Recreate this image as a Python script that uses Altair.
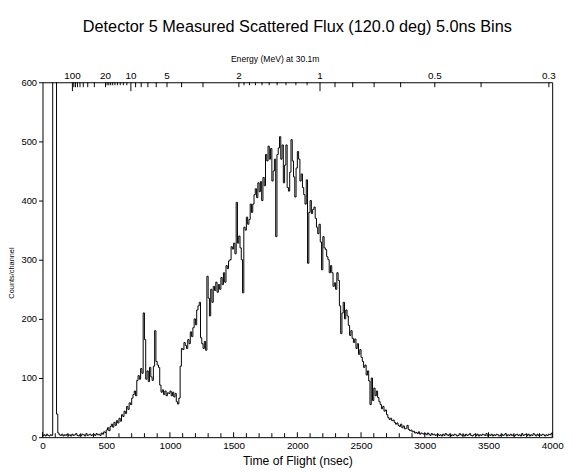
import math
import altair as alt
import pandas as pd

TITLE = "Detector 5 Measured Scattered Flux (120.0 deg) 5.0ns Bins"
X_TITLE = "Time of Flight (nsec)"
Y_TITLE = "Counts/channel"
TOP_TITLE = "Energy (MeV) at 30.1m"
FONT = "Liberation Sans"

# Counts, one value per 10 ns (start of bin)
counts_0_1000 = [
    3, 4, 2, 5, 3, 2, 4, 3, 900, 900,
    900, 39, 7, 4, 3, 5, 2, 4, 3, 5,
    3, 4, 2, 5, 3, 4, 6, 3, 2, 4,
    3, 5, 4, 2, 6, 3, 4, 5, 3, 4,
    5, 3, 6, 4, 5, 3, 7, 5, 9, 8,
    12, 16, 11, 18, 22, 17, 25, 20, 28, 24,
    32, 27, 38, 35, 44, 40, 52, 47, 58, 55,
    66, 72, 78, 70, 96, 104, 98, 116, 108, 210,
    165, 98, 112, 94, 118, 102, 96, 120, 180, 128,
    122, 118, 88, 76, 80, 72, 78, 70, 75, 74,
]
counts_1000_2000 = [
    78, 70, 76, 68, 74, 60, 56, 66, 120, 150,
    148, 160, 155, 150, 165, 158, 178, 170, 185, 200,
    190, 215, 222, 228, 168, 158, 150, 162, 147, 272,
    235, 205, 250, 228, 255, 248, 262, 245, 258, 250,
    270, 258, 278, 262, 290, 285, 298, 300, 322, 318,
    328, 310, 397, 328, 340, 320, 300, 244, 355, 350,
    372, 360, 368, 394, 380, 394, 410, 420, 405, 430,
    415, 432, 400, 439, 425, 478, 467, 492, 470, 488,
    433, 450, 470, 339, 478, 489, 508, 470, 494, 430,
    460, 494, 422, 416, 448, 503, 467, 440, 406, 455,
]
counts_2000_3000 = [
    483, 470, 433, 445, 422, 410, 394, 435, 294, 380,
    400, 378, 385, 389, 370, 355, 344, 360, 330, 283,
    339, 320, 317, 305, 300, 278, 290, 278, 255, 261,
    250, 278, 265, 222, 175, 210, 228, 200, 215, 205,
    189, 172, 180, 167, 160, 166, 150, 158, 140, 148,
    135, 128, 118, 122, 105, 112, 95, 55, 100, 62,
    83, 70, 78, 67, 60, 55, 48, 52, 44, 46,
    38, 33, 30, 32, 28, 29, 25, 22, 24, 20,
    18, 22, 16, 19, 14, 15, 20, 13, 11, 12,
    9, 10, 7, 8, 6, 9, 5, 7, 6, 5,
]
counts_3000_4000 = [
    6, 4, 7, 5, 3, 6, 4, 5, 3, 4,
    5, 3, 4, 2, 5, 3, 6, 4, 3, 5,
    2, 4, 3, 5, 4, 2, 3, 6, 4, 3,
    4, 2, 5, 3, 4, 6, 3, 2, 4, 5,
    3, 5, 2, 4, 3, 5, 4, 3, 6, 2,
    4, 3, 5, 2, 4, 3, 5, 4, 2, 3,
    5, 3, 4, 6, 2, 4, 3, 5, 3, 4,
    2, 4, 5, 3, 4, 2, 6, 3, 4, 5,
    3, 5, 2, 4, 3, 6, 4, 2, 5, 3,
    4, 3, 5, 4, 2, 4, 3, 5, 4, 6,
]

x_label_values = [0, 500, 1000, 1500, 2000, 2500, 3000, 3500, 4000]
x_minor_ticks = list(range(0, 4001, 100))
y_tick_values = [0, 100, 200, 300, 400, 500, 600]

energy_labels = [100, 20, 10, 5, 2, 1, 0.5, 0.3]
energy_long = [100, 10, 1]
energy_medium = [90, 80, 70, 60, 50, 40, 30, 20, 9, 8, 7, 6, 5, 4, 3, 2,
                 0.9, 0.8, 0.7, 0.6, 0.5, 0.4, 0.3]
energy_short = [19, 18, 17, 16, 15, 14, 13, 12, 11,
                1.9, 1.8, 1.7, 1.6, 1.5, 1.4, 1.3, 1.2, 1.1]

FLIGHT_PATH_M = 30.1
NEUTRON_MASS_MEV = 939.565
C_M_PER_NS = 0.299792458


def tof_ns(e_mev):
    gamma = 1.0 + e_mev / NEUTRON_MASS_MEV
    beta = math.sqrt(1.0 - 1.0 / gamma ** 2)
    return FLIGHT_PATH_M / (C_M_PER_NS * beta)


BIN = 10
counts = counts_0_1000 + counts_1000_2000 + counts_2000_3000 + counts_3000_4000
df = pd.DataFrame({
    "tof": [i * BIN for i in range(len(counts))] + [4000],
    "counts": counts + [counts[-1]],
})

W, H = 517, 360
xs = alt.Scale(domain=[0, 4000], nice=False, zero=False)
ys = alt.Scale(domain=[0, 600], nice=False)

x_axis = alt.Axis(values=x_label_values, ticks=False, tickSize=0, domain=False, grid=False,
                  labelFontSize=10, labelPadding=4, labelFont=FONT, labelColor="black",
                  labelFlush=False, labelOverlap=False,
                  title=X_TITLE, titleFontSize=12.3, titleFont=FONT, titleFontWeight="normal",
                  titleColor="black", titleBaseline="alphabetic", titleY=28, format="d")
y_axis = alt.Axis(values=y_tick_values, tickSize=4, tickColor="black", domain=False, grid=False,
                  labelFontSize=9.5, labelPadding=2, labelFont=FONT, labelColor="black",
                  labelFlush=False, labelOverlap=False,
                  title=Y_TITLE, titleFontSize=7.5, titleFont=FONT, titleFontWeight="normal",
                  titleColor="black", titleX=-31, titleY=193, titleAngle=-90,
                  titleAlign="center", titleBaseline="middle")


def xenc():
    return alt.X("tof:Q", scale=xs, axis=x_axis)


line = alt.Chart(df).mark_line(
    interpolate="step-after", color="black", strokeWidth=1, clip=True
).encode(x=xenc(), y=alt.Y("counts:Q", scale=ys, axis=y_axis))

bt = pd.DataFrame({"tof": x_minor_ticks})
bt["major"] = bt["tof"] % 500 == 0
bottom_minor = alt.Chart(bt[~bt["major"]]).mark_rule(color="black", strokeWidth=1).encode(
    x=xenc(), y=alt.value(H), y2=alt.value(H - 4))
bottom_major = alt.Chart(bt[bt["major"]]).mark_rule(color="black", strokeWidth=1).encode(
    x=xenc(), y=alt.value(H), y2=alt.value(H - 5))


def top_ticks(energies, length):
    d = pd.DataFrame({"tof": [tof_ns(e) for e in energies]})
    return alt.Chart(d).mark_rule(color="black", strokeWidth=1).encode(
        x=xenc(), y=alt.value(0), y2=alt.value(length))


lab = pd.DataFrame({"tof": [tof_ns(e) for e in energy_labels],
                    "label": [f"{e:g}" for e in energy_labels]})
top_labels = alt.Chart(lab).mark_text(
    baseline="alphabetic", align="center", fontSize=10, font=FONT, color="black"
).encode(x=xenc(), y=alt.value(-3), text="label:N")

top_title = alt.Chart(pd.DataFrame({"t": [TOP_TITLE]})).mark_text(
    baseline="middle", align="center", fontSize=8.7, font=FONT, color="black"
).encode(x=alt.value(236), y=alt.value(-23.5), text="t:N")

chart = alt.layer(
    line, bottom_minor, bottom_major,
    top_ticks(energy_long, 9), top_ticks(energy_medium, 5), top_ticks(energy_short, 3),
    top_labels, top_title,
).properties(
    width=W, height=H,
    title=alt.TitleParams(TITLE, fontSize=16.5, font=FONT, fontWeight="normal", color="black",
                          anchor="middle", baseline="alphabetic", offset=6.5),
    autosize=alt.AutoSizeParams(type="none"),
    padding={"left": 35, "top": 72, "right": 13, "bottom": 32},
    background="white",
).configure_view(stroke="black", strokeWidth=1)

chart.save("out.html", embed_options={"renderer": "svg", "actions": False})
